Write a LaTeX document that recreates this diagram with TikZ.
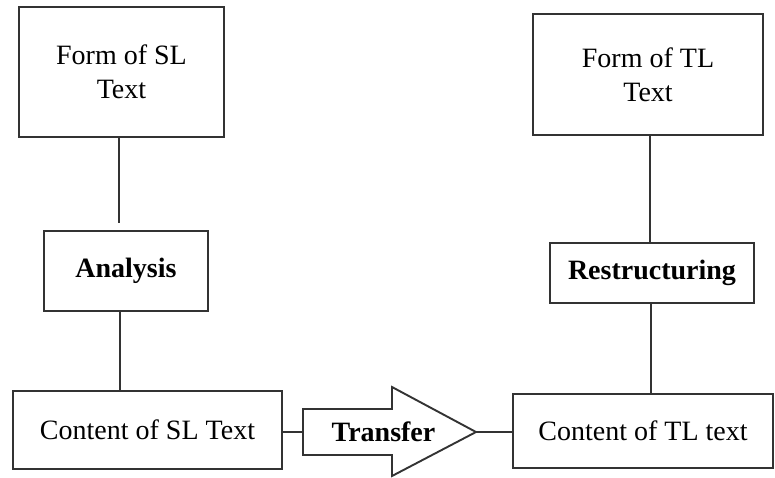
\documentclass[tikz,border=0pt]{standalone}
\usepackage{fontspec}
\setmainfont{Liberation Serif}
\begin{document}
\begin{tikzpicture}[x=1pt,y=-1pt,
  box/.style={draw=black!80, line width=1.9pt, fill=white, inner sep=0pt, align=center,
              font=\fontsize{28}{34}\selectfont},
  link/.style={draw=black!80, line width=1.9pt}]
\useasboundingbox (0,0) rectangle (775,477);
% boxes
\node[box, minimum width=205pt, minimum height=130pt] (SLform) at (121.5,72) {Form of SL\\Text};
\node[box, minimum width=164pt, minimum height=80pt, font=\fontsize{28}{34}\selectfont\bfseries] (Analysis) at (126,271) {Analysis};
\node[box, minimum width=269pt, minimum height=78pt] (SLcontent) at (147.5,430) {Content of SL Text};
\node[box, minimum width=230pt, minimum height=121pt] (TLform) at (648,74.5) {Form of TL\\Text};
\node[box, minimum width=204pt, minimum height=60pt, font=\fontsize{28}{34}\selectfont\bfseries] (Restruct) at (652,273) {Restructuring};
\node[box, minimum width=260pt, minimum height=74pt] (TLcontent) at (643,431) {Content of TL text};
% transfer arrow
\coordinate (tail) at (303,432);
\coordinate (tip) at (476,432);
\draw[link, line join=miter] (tail) -- (303,409) -- (392,409) -- (392,387) -- (tip)
   -- (392,476) -- (392,455) -- (303,455) -- cycle;
\node[font=\fontsize{28}{34}\selectfont\bfseries, inner sep=0pt] (Transfer) at (383.5,432) {Transfer};
% connectors
\coordinate (l1) at (119,137);
\draw[link, shorten >=7pt] (SLform.south -| l1) -- (Analysis.north -| l1);
\coordinate (l2) at (120,311);
\draw[link] (Analysis.south -| l2) -- (SLcontent.north -| l2);
\coordinate (l3) at (650,135);
\draw[link] (TLform.south -| l3) -- (Restruct.north -| l3);
\coordinate (l4) at (651,303);
\draw[link] (Restruct.south -| l4) -- (TLcontent.north -| l4);
\draw[link] (SLcontent.east |- tail) -- (tail);
\draw[link] (tip) -- (TLcontent.west |- tip);
\end{tikzpicture}
\end{document}
